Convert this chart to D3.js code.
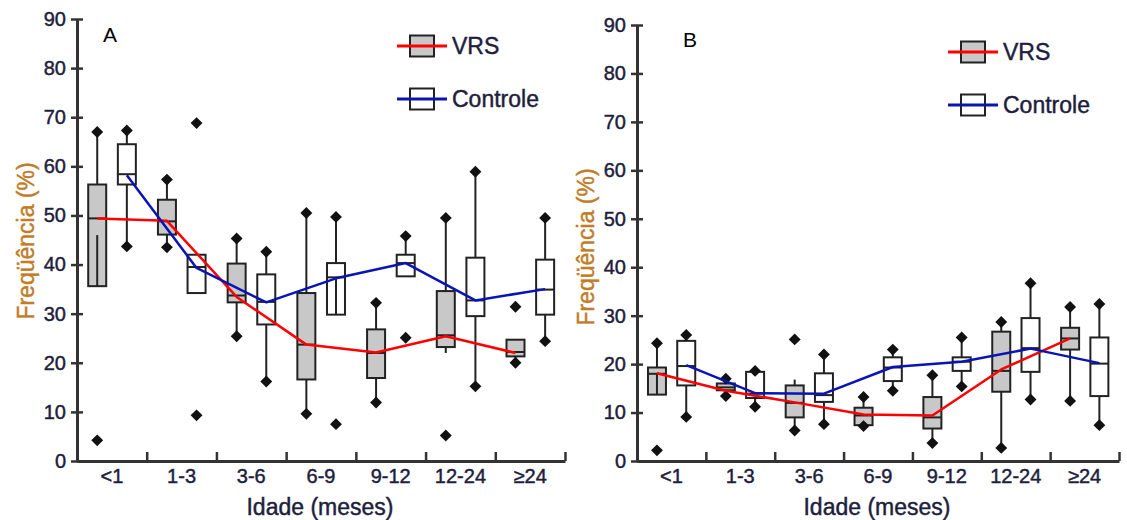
<!DOCTYPE html>
<html lang="pt">
<head>
<meta charset="utf-8">
<title>Frequência por idade</title>
<script src="https://cdn.jsdelivr.net/npm/d3@7"></script>
<style>
  body { margin: 0; background: #fff; }
  svg { display: block; font-family: "Liberation Sans", Arial, sans-serif; }
  .tick text { fill: #1e1e3c; stroke: #1e1e3c; stroke-width: 0.45; }
  .ttl { stroke-width: 0.45; }
</style>
</head>
<body>
<script>
var categories = ["<1", "1-3", "3-6", "6-9", "9-12", "12-24", "\u226524"];
var yTicks = [0, 10, 20, 30, 40, 50, 60, 70, 80, 90];

// painel A - VRS
var aVrsQ1  = [35.6, 46.1, 32.3, 16.6, 16.9, 23.2, 21.3];
var aVrsMed = [49.4, 48.8, 33.7, 23.7, 22.0, 25.6, 22.2];
var aVrsQ3  = [56.3, 53.2, 40.2, 34.2, 26.8, 34.6, 24.7];
var aVrsLo  = [46.0, 43.5, 25.4, 9.6, 11.9, 22.0, 20.0];
var aVrsHi  = [67.0, 57.3, 45.3, 50.5, 32.2, 49.5, 24.7];
var aVrsPts = [[67.0, 4.2], [57.3, 43.5], [45.3, 25.4], [50.5, 9.6], [32.2, 11.9], [49.5, 5.2], [31.4, 20.0]];
var aVrsLine = [49.4, 48.9, 33.4, 23.7, 22.1, 25.4, 22.0];

// painel A - Controle
var aCtlQ1  = [56.3, 34.2, 27.8, 29.8, 37.6, 29.5, 29.8];
var aCtlMed = [58.4, 39.5, 32.4, 37.4, 40.3, 32.7, 34.9];
var aCtlQ3  = [64.5, 42.0, 38.0, 40.3, 42.0, 41.4, 41.0];
var aCtlLo  = [43.7, 34.2, 16.2, 37.4, 37.6, 15.2, 24.4];
var aCtlHi  = [67.3, 42.0, 42.6, 49.7, 45.8, 58.9, 49.5];
var aCtlPts = [[67.3, 43.7], [68.8, 9.3], [42.6, 16.2], [49.7, 7.5], [45.8, 25.1], [58.9, 15.2], [49.5, 24.4]];
var aCtlLine = [58.2, 39.3, 32.3, 37.2, 40.3, 32.7, 35.0];

// painel B - VRS
var bVrsQ1  = [13.7, 14.6, 9.0, 7.4, 6.7, 14.3, 23.0];
var bVrsMed = [18.0, 15.2, 12.0, 9.4, 9.0, 18.6, 25.3];
var bVrsQ3  = [19.3, 16.0, 15.6, 11.0, 13.2, 26.7, 27.5];
var bVrsLo  = [18.0, 13.4, 6.3, 7.2, 3.7, 2.7, 12.4];
var bVrsHi  = [24.3, 17.0, 16.8, 13.2, 17.7, 28.7, 31.8];
var bVrsPts = [[24.3, 2.2], [17.0, 13.4], [25.1, 6.3], [13.2, 7.2], [17.7, 3.7], [28.7, 2.7], [31.8, 12.4]];
var bVrsLine = [18.1, 14.5, 12.1, 9.6, 9.4, 18.9, 25.3];

// painel B - Controle
var bCtlQ1  = [15.6, 13.0, 12.2, 16.5, 18.6, 18.4, 13.4];
var bCtlMed = [19.6, 13.9, 13.6, 19.3, 20.5, 23.3, 20.1];
var bCtlQ3  = [24.8, 18.4, 18.1, 21.4, 21.4, 29.5, 25.5];
var bCtlLo  = [9.1, 11.2, 7.6, 14.5, 15.4, 12.7, 7.4];
var bCtlHi  = [26.0, 18.6, 22.0, 23.0, 25.5, 36.7, 32.4];
var bCtlPts = [[26.0, 9.1], [18.6, 11.2], [22.0, 7.6], [23.0, 14.5], [25.5, 15.4], [36.7, 12.7], [32.4, 7.4]];
var bCtlLine = [19.8, 14.0, 13.9, 19.4, 20.5, 23.2, 20.2];

var width = 1127, height = 520;
var svg = d3.select("body").append("svg")
    .attr("width", width)
    .attr("height", height);

var panels = [
    {
        letter: "A", left: 77, right: 565, top: 19, bottom: 461,
        letterX: 103, letterY: 42, ylabX: 26, ylabY: 241, xlabY: 515,
        legX: 410, legY: 46,
        series: [
            {name: "VRS", q1: aVrsQ1, med: aVrsMed, q3: aVrsQ3, lo: aVrsLo, hi: aVrsHi, pts: aVrsPts, line: aVrsLine, fill: "#c8c8c8", color: "#ff0000", off: -0.21},
            {name: "Controle", q1: aCtlQ1, med: aCtlMed, q3: aCtlQ3, lo: aCtlLo, hi: aCtlHi, pts: aCtlPts, line: aCtlLine, fill: "#ffffff", color: "#0a14b4", off: 0.215}
        ]
    },
    {
        letter: "B", left: 637, right: 1119, top: 25, bottom: 461,
        letterX: 683, letterY: 47, ylabX: 586, ylabY: 247, xlabY: 515,
        legX: 961, legY: 52,
        series: [
            {name: "VRS", q1: bVrsQ1, med: bVrsMed, q3: bVrsQ3, lo: bVrsLo, hi: bVrsHi, pts: bVrsPts, line: bVrsLine, fill: "#c8c8c8", color: "#ff0000", off: -0.21},
            {name: "Controle", q1: bCtlQ1, med: bCtlMed, q3: bCtlQ3, lo: bCtlLo, hi: bCtlHi, pts: bCtlPts, line: bCtlLine, fill: "#ffffff", color: "#0a14b4", off: 0.215}
        ]
    }
];

var boxW = 18;
var diamond = d3.symbol().type(d3.symbolDiamond2).size(90);

panels.forEach(function(p) {
    var g = svg.append("g");
    var x = d3.scaleBand().domain(categories).range([p.left, p.right]);
    var xEdge = d3.scaleLinear().domain([0, categories.length]).range([p.left, p.right]);
    var y = d3.scaleLinear().domain([0, 90]).range([p.bottom, p.top]);
    var bw = x.bandwidth();

    // eixo y
    var yAxis = g.append("g")
        .attr("transform", "translate(" + p.left + ",0)")
        .call(d3.axisLeft(y).tickValues(yTicks).tickSize(6).tickSizeOuter(0).tickPadding(5));
    yAxis.selectAll(".tick line").attr("x1", -6).attr("x2", 6).attr("stroke", "#333").attr("stroke-width", 2.5);
    yAxis.select(".domain").attr("stroke", "#333").attr("stroke-width", 3);
    yAxis.selectAll(".tick text").attr("font-size", 20).attr("font-family", "Liberation Sans, Arial, sans-serif");

    // eixo x (marcas entre categorias)
    var xAxis = g.append("g")
        .attr("transform", "translate(0," + p.bottom + ")")
        .call(d3.axisBottom(xEdge).tickValues(d3.range(1, categories.length + 1)).tickSize(-9).tickSizeOuter(0).tickFormat(""));
    xAxis.select(".domain").attr("stroke", "#333").attr("stroke-width", 3);
    xAxis.selectAll(".tick line").attr("stroke", "#333").attr("stroke-width", 2.5);

    var xLabels = g.append("g")
        .attr("transform", "translate(0," + p.bottom + ")")
        .call(d3.axisBottom(x).tickSize(0).tickPadding(8));
    xLabels.select(".domain").remove();
    xLabels.selectAll(".tick text").attr("font-size", 20).attr("font-family", "Liberation Sans, Arial, sans-serif");

    // titulos
    g.append("text")
        .attr("class", "ttl")
        .attr("x", (p.left + p.right) / 2 - 1)
        .attr("y", p.xlabY)
        .attr("text-anchor", "middle")
        .attr("font-size", 23)
        .attr("fill", "#1e1e3c")
        .attr("stroke", "#1e1e3c")
        .text("Idade (meses)");

    g.append("text")
        .attr("class", "ttl")
        .attr("transform", "translate(" + p.ylabX + "," + p.ylabY + ") rotate(-90)")
        .attr("text-anchor", "middle")
        .attr("dy", "0.35em")
        .attr("font-size", 23)
        .attr("fill", "#c07c28")
        .attr("stroke", "#c07c28")
        .text("Freqüência (%)");

    g.append("text")
        .attr("x", p.letterX)
        .attr("y", p.letterY)
        .attr("font-size", 21)
        .attr("fill", "#000")
        .text(p.letter);

    // caixas
    p.series.forEach(function(s) {
        var cx = function(i) { return x(categories[i]) + bw / 2 + s.off * bw; };
        var sg = g.append("g");
        categories.forEach(function(c, i) {
            sg.append("rect")
                .attr("x", cx(i) - boxW / 2)
                .attr("y", y(s.q3[i]))
                .attr("width", boxW)
                .attr("height", y(s.q1[i]) - y(s.q3[i]))
                .attr("fill", s.fill)
                .attr("stroke", "#222")
                .attr("stroke-width", 2);
            sg.append("line")
                .attr("x1", cx(i)).attr("x2", cx(i))
                .attr("y1", y(s.q3[i])).attr("y2", y(s.hi[i]))
                .attr("stroke", "#222").attr("stroke-width", 2);
            sg.append("line")
                .attr("x1", cx(i)).attr("x2", cx(i))
                .attr("y1", y(s.q1[i])).attr("y2", y(s.lo[i]))
                .attr("stroke", "#222").attr("stroke-width", 2);
            sg.append("line")
                .attr("x1", cx(i) - boxW / 2).attr("x2", cx(i) + boxW / 2)
                .attr("y1", y(s.med[i])).attr("y2", y(s.med[i]))
                .attr("stroke", "#222").attr("stroke-width", 2);
            s.pts[i].forEach(function(v) {
                sg.append("path")
                    .attr("d", diamond)
                    .attr("transform", "translate(" + cx(i) + "," + y(v) + ")")
                    .attr("fill", "#111");
            });
        });
        s.cx = cx;
    });

    // linhas
    p.series.forEach(function(s) {
        var line = d3.line()
            .x(function(d, i) { return s.cx(i); })
            .y(function(d) { return y(d); });
        g.append("path")
            .datum(s.line)
            .attr("d", line)
            .attr("fill", "none")
            .attr("stroke", s.color)
            .attr("stroke-width", 2.5)
            .attr("stroke-linejoin", "round");
    });

    // legenda
    p.series.forEach(function(s, k) {
        var ly = p.legY + k * 53;
        var lg = g.append("g");
        lg.append("rect")
            .attr("x", p.legX).attr("y", ly - 10.5)
            .attr("width", 24).attr("height", 21)
            .attr("fill", s.fill)
            .attr("stroke", "#222").attr("stroke-width", 2);
        lg.append("line")
            .attr("x1", p.legX - 13).attr("x2", p.legX + 37)
            .attr("y1", ly).attr("y2", ly)
            .attr("stroke", s.color).attr("stroke-width", 3);
        lg.append("text")
            .attr("class", "ttl")
            .attr("x", p.legX + 42)
            .attr("y", ly)
            .attr("dy", "0.36em")
            .attr("font-size", 23)
            .attr("fill", "#1e1e3c")
            .attr("stroke", "#1e1e3c")
            .text(s.name);
    });
});
</script>
</body>
</html>
